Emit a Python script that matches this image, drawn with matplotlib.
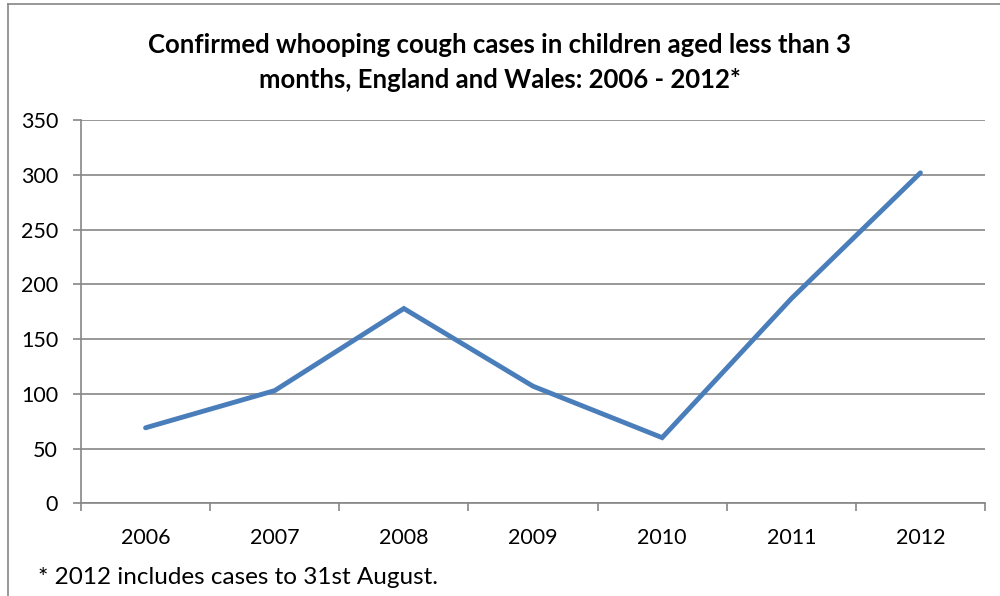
import matplotlib
matplotlib.use("Agg")
import matplotlib.pyplot as plt
from matplotlib.lines import Line2D

# whooping cough cases, infants < 3 months
years = ["2006", "2007", "2008", "2009", "2010", "2011", "2012"]
cases = [69, 103, 178, 107, 60, 187, 302]
y_ticks = [0, 50, 100, 150, 200, 250, 300, 350]

plt.rcParams["font.family"] = ["Lato", "DejaVu Sans"]

fig = plt.figure(figsize=(10, 5.96), dpi=100)
ax = fig.add_axes([0.081, 1 - 503.3 / 596, 0.904, 383 / 596])

x = range(len(years))
ax.plot(x, cases, color="#4A7EBB", linewidth=3.5, solid_capstyle="round",
        solid_joinstyle="miter", zorder=3)

ax.set_xlim(-0.5, len(years) - 0.5)
ax.set_ylim(0, 350)
ax.set_yticks(y_ticks)
ax.set_yticklabels([str(v) for v in y_ticks], fontsize=15.5)
ax.set_xticks(list(x))
ax.set_xticklabels(years, fontsize=15.5)
ax.tick_params(axis="x", which="major", length=0, pad=18)
ax.set_xticks([i - 0.5 for i in range(len(years) + 1)], minor=True)
ax.tick_params(axis="x", which="minor", length=5.5, color="#868686", width=1.2)
ax.tick_params(axis="y", length=5.5, color="#868686", width=1.2, pad=11)

ax.grid(axis="y", color="#868686", linewidth=1.2)
ax.set_axisbelow(True)
for side in ["top", "right"]:
    ax.spines[side].set_visible(False)
for side in ["left", "bottom"]:
    ax.spines[side].set_color("#868686")
    ax.spines[side].set_linewidth(1.2)

fig.text(0.5, 1 - 45 / 596, "Confirmed whooping cough cases in children aged less than 3",
         ha="center", va="center", fontsize=18.5, fontweight="bold")
fig.text(0.5, 1 - 80 / 596, "months, England and Wales: 2006 - 2012*",
         ha="center", va="center", fontsize=18.5, fontweight="bold")
fig.text(38 / 1000, 1 - 578 / 596, "* 2012 includes cases to 31st August.",
         ha="left", va="center", fontsize=17.5)

# outer chart frame (top and left edges visible)
fig.add_artist(Line2D([8 / 1000, 1.0], [1 - 4 / 596, 1 - 4 / 596],
                      color="#868686", linewidth=1.2, transform=fig.transFigure))
fig.add_artist(Line2D([8 / 1000, 8 / 1000], [0, 1 - 4 / 596],
                      color="#868686", linewidth=1.2, transform=fig.transFigure))

fig.savefig("out.png", dpi=100)
